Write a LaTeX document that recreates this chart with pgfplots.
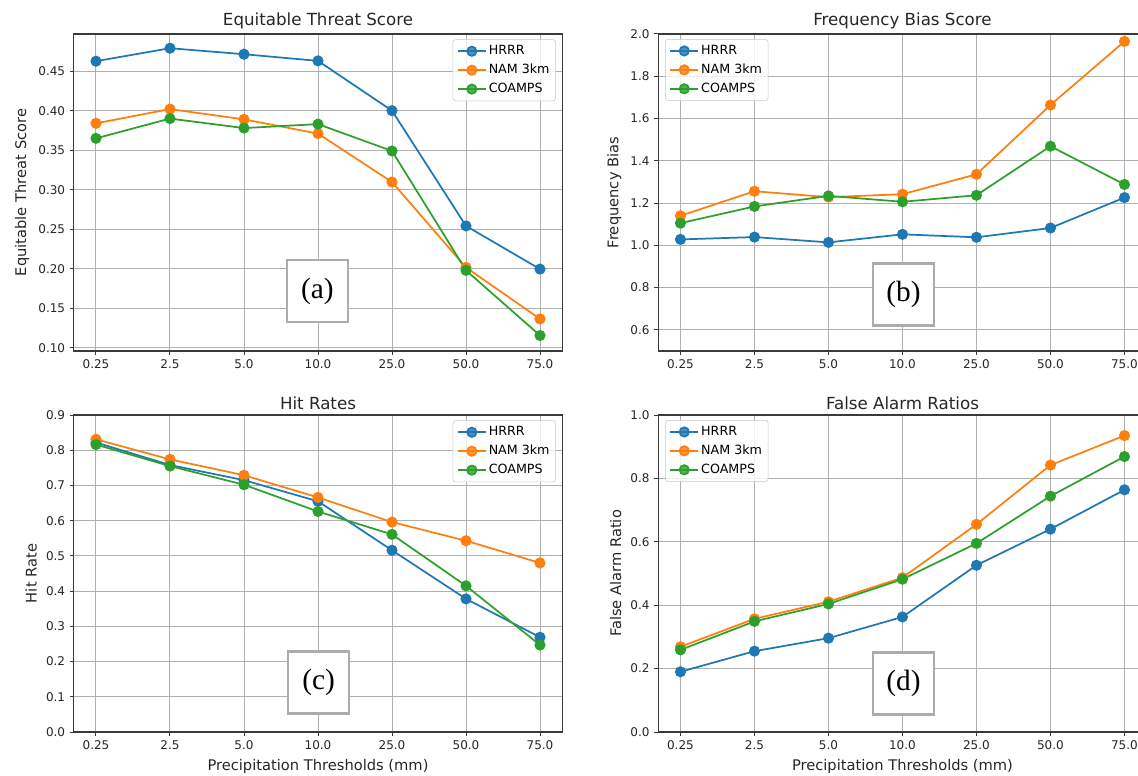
\documentclass[border=0pt]{standalone}
\usepackage{pgfplots}
\pgfplotsset{compat=1.18}
\usepackage{fontspec}
\setmainfont{DejaVu Sans}
\newfontfamily\timesf{Liberation Serif}
\definecolor{c1}{HTML}{1F77B4}
\definecolor{c2}{HTML}{FF7F0E}
\definecolor{c3}{HTML}{2CA02C}
\definecolor{gridc}{HTML}{B0B0B0}
\definecolor{spine}{HTML}{3A3A3A}
\definecolor{txt}{HTML}{262626}
\pgfplotsset{
 panel/.style={
  scale only axis, width=366.3pt, height=237.75pt, anchor=south west,
  xmin=-0.3, xmax=6.3, xtick={0,...,6},
  xticklabels={0.25,2.5,5.0,10.0,25.0,50.0,75.0},
  grid=major, major grid style={gridc, line width=0.75pt},
  axis line style={spine, line width=0.9pt},
  tick align=outside, major tick length=3pt, tick style={spine, line width=0.75pt},
  tick pos=left,
  ticklabel style={font=\fontsize{9}{10}\selectfont, text=txt},
  /pgf/number format/assume math mode=true,
  label style={font=\fontsize{11}{12}\selectfont, text=txt},
  title style={font=\fontsize{12.5}{14}\selectfont, text=txt, yshift=-5.5pt},
  every axis plot/.append style={line width=1.3pt, mark=*, mark size=3.5pt, mark options={solid}},
  legend style={font=\fontsize{9.5}{11}\selectfont, draw=gridc!70, rounded corners=2pt, fill=white, fill opacity=0.8, text opacity=1, row sep=2.6pt, inner sep=3pt,
    nodes={inner sep=1.5pt}},
  legend cell align=left,
  legend image code/.code={\draw[mark repeat=2, mark phase=2] plot coordinates {(0cm,0cm) (0.37cm,0cm) (0.74cm,0cm)};},
 },
 rightleg/.style={legend style={at={(0.987,0.983)}, anchor=north east}},
 leftleg/.style={legend style={at={(0.014,0.984)}, anchor=north west}},
}
\begin{document}
\begin{tikzpicture}
% (a)
\begin{axis}[panel, rightleg, at={(55.35pt,318pt)},
  ymin=0.096, ymax=0.497, ytick={0.10,0.15,...,0.46},
  yticklabel style={/pgf/number format/.cd, fixed, fixed zerofill, precision=2},
  title={Equitable Threat Score}, ylabel={Equitable Threat Score}]
\addplot[c1] coordinates {(0,0.4626) (1,0.479) (2,0.4714) (3,0.463) (4,0.400) (5,0.2542) (6,0.1996)};
\addplot[c2] coordinates {(0,0.384) (1,0.402) (2,0.389) (3,0.371) (4,0.3097) (5,0.2017) (6,0.1366)};
\addplot[c3] coordinates {(0,0.365) (1,0.390) (2,0.378) (3,0.383) (4,0.349) (5,0.198) (6,0.1156)};
\legend{HRRR,NAM 3km,COAMPS}
\end{axis}
% (b)
\begin{axis}[panel, leftleg, at={(493.7pt,318pt)},
  ymin=0.5, ymax=2.0, ytick={0.6,0.8,...,2.01},
  yticklabel style={/pgf/number format/.cd, fixed, fixed zerofill, precision=1},
  title={Frequency Bias Score}, ylabel={Frequency Bias}]
\addplot[c1] coordinates {(0,1.028) (1,1.039) (2,1.014) (3,1.052) (4,1.038) (5,1.082) (6,1.226)};
\addplot[c2] coordinates {(0,1.140) (1,1.256) (2,1.228) (3,1.242) (4,1.336) (5,1.664) (6,1.965)};
\addplot[c3] coordinates {(0,1.105) (1,1.184) (2,1.234) (3,1.206) (4,1.237) (5,1.469) (6,1.288)};
\legend{HRRR,NAM 3km,COAMPS}
\end{axis}
% (c)
\begin{axis}[panel, rightleg, at={(55.35pt,32.25pt)},
  ymin=0, ymax=0.9, ytick={0,0.1,...,0.91},
  yticklabel style={/pgf/number format/.cd, fixed, fixed zerofill, precision=1},
  title={Hit Rates}, ylabel={Hit Rate}, xlabel={Precipitation Thresholds (mm)}]
\addplot[c1] coordinates {(0,0.822) (1,0.758) (2,0.715) (3,0.655) (4,0.516) (5,0.378) (6,0.269)};
\addplot[c2] coordinates {(0,0.831) (1,0.774) (2,0.729) (3,0.666) (4,0.596) (5,0.543) (6,0.480)};
\addplot[c3] coordinates {(0,0.816) (1,0.755) (2,0.702) (3,0.626) (4,0.561) (5,0.415) (6,0.247)};
\legend{HRRR,NAM 3km,COAMPS}
\end{axis}
% (d)
\begin{axis}[panel, leftleg, at={(493.7pt,32.25pt)},
  ymin=0, ymax=1.0, ytick={0,0.2,...,1.01},
  yticklabel style={/pgf/number format/.cd, fixed, fixed zerofill, precision=1},
  title={False Alarm Ratios}, ylabel={False Alarm Ratio}, xlabel={Precipitation Thresholds (mm)}]
\addplot[c1] coordinates {(0,0.190) (1,0.255) (2,0.296) (3,0.363) (4,0.526) (5,0.640) (6,0.764)};
\addplot[c2] coordinates {(0,0.269) (1,0.357) (2,0.411) (3,0.487) (4,0.655) (5,0.842) (6,0.935)};
\addplot[c3] coordinates {(0,0.259) (1,0.349) (2,0.404) (3,0.482) (4,0.595) (5,0.744) (6,0.869)};
\legend{HRRR,NAM 3km,COAMPS}
\end{axis}
\tikzset{lab/.style={draw=gray!65, line width=1.9pt, fill=white, minimum width=46pt, minimum height=46.5pt, inner sep=0pt, font=\timesf\fontsize{22}{24}\selectfont}}
\node[lab] at (238.1pt,363pt) {(a)};
\node[lab] at (677.6pt,360.4pt) {(b)};
\node[lab] at (238.9pt,69.4pt) {(c)};
\node[lab] at (677.6pt,68.6pt) {(d)};
\pgfresetboundingbox
\useasboundingbox (0,0) rectangle (853.5pt,581.25pt);
\end{tikzpicture}
\end{document}
